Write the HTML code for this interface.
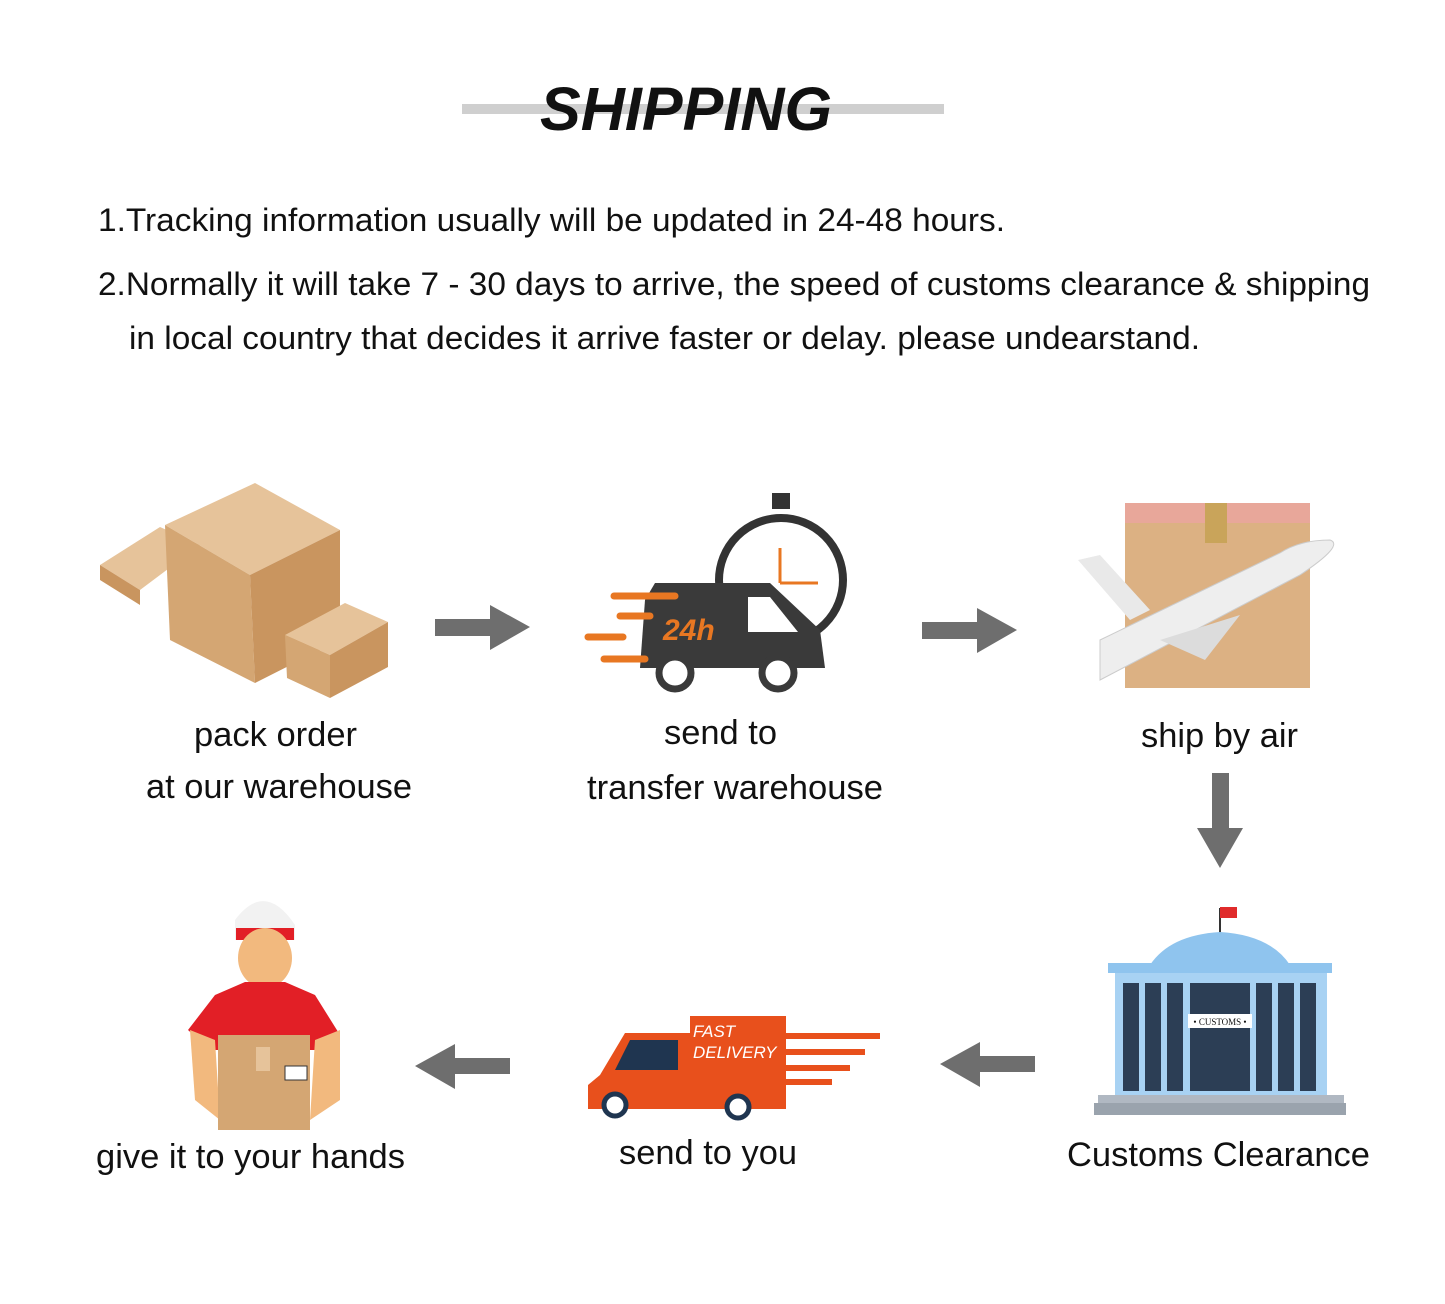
<!DOCTYPE html>
<html><head><meta charset="utf-8"><style>
html,body{margin:0;padding:0;background:#fff;}
svg{display:block;}
text{font-family:"Liberation Sans",Arial,sans-serif;fill:#111;}
</style></head><body>
<svg width="1445" height="1304" viewBox="0 0 1445 1304" xmlns="http://www.w3.org/2000/svg">
<rect x="462" y="104" width="482" height="10" fill="#cfcfcf"/>
<text x="686" y="130" text-anchor="middle" font-size="61" font-weight="bold" font-style="italic" fill="#000" textLength="292" lengthAdjust="spacingAndGlyphs">SHIPPING</text>
<text x="98" y="231" font-size="32" textLength="907" lengthAdjust="spacingAndGlyphs">1.Tracking information usually will be updated in 24-48 hours.</text>
<text x="98" y="295" font-size="32" textLength="1272" lengthAdjust="spacingAndGlyphs">2.Normally it will take 7 - 30 days to arrive, the speed of customs clearance &amp; shipping</text>
<text x="129" y="349" font-size="32" textLength="1071" lengthAdjust="spacingAndGlyphs">in local country that decides it arrive faster or delay. please undearstand.</text>

<!-- boxes -->
<polygon points="100,565 160,527 200,545 140,590" fill="#e6c39a"/>
<polygon points="100,565 140,590 140,605 100,580" fill="#c9955f"/>
<polygon points="165,525 255,483 340,530 250,575" fill="#e6c39a"/>
<polygon points="165,525 250,575 255,683 170,640" fill="#d4a673"/>
<polygon points="250,575 340,530 340,640 255,683" fill="#c9955f"/>
<polygon points="285,635 345,603 388,622 330,655" fill="#e6c39a"/>
<polygon points="285,635 330,655 330,698 287,678" fill="#d4a673"/>
<polygon points="330,655 388,622 388,667 330,698" fill="#c9955f"/>

<!-- arrows -->
<g fill="#6e6e6e">
<polygon points="435,619 490,619 490,605 530,627 490,650 490,636 435,636"/>
<polygon points="922,622 977,622 977,608 1017,630 977,653 977,639 922,639"/>
<polygon points="1212,773 1229,773 1229,828 1243,828 1220,868 1197,828 1212,828"/>
<polygon points="510,1058 455,1058 455,1044 415,1066 455,1089 455,1074 510,1074"/>
<polygon points="1035,1056 980,1056 980,1042 940,1064 980,1087 980,1072 1035,1072"/>
</g>

<!-- stopwatch + van -->
<rect x="772" y="493" width="18" height="16" fill="#333"/>
<circle cx="781" cy="580" r="62" fill="none" stroke="#333" stroke-width="8"/>
<line x1="780" y1="548" x2="780" y2="583" stroke="#e87722" stroke-width="3"/>
<line x1="780" y1="583" x2="818" y2="583" stroke="#e87722" stroke-width="3"/>
<path d="M655,583 L770,583 L820,630 L825,668 L640,668 L645,600 Z" fill="#3a3a3a"/>
<polygon points="748,597 770,597 798,632 748,632" fill="#fff"/>
<text x="663" y="640" font-size="30" font-weight="bold" font-style="italic" style="fill:#e87722">24h</text>
<g stroke="#e87722" stroke-width="7" stroke-linecap="round">
<line x1="614" y1="596" x2="675" y2="596"/><line x1="620" y1="616" x2="650" y2="616"/>
<line x1="588" y1="637" x2="623" y2="637"/><line x1="604" y1="659" x2="645" y2="659"/></g>
<circle cx="675" cy="673" r="16" fill="#fff" stroke="#3a3a3a" stroke-width="7"/>
<circle cx="778" cy="673" r="16" fill="#fff" stroke="#3a3a3a" stroke-width="7"/>

<!-- plane box -->
<rect x="1125" y="503" width="185" height="185" fill="#dcb183"/>
<rect x="1125" y="503" width="185" height="20" fill="#e8a79a"/>
<rect x="1205" y="503" width="22" height="40" fill="#c9a45a"/>
<path d="M1100,680 L1300,575 Q1345,545 1330,540 Q1300,540 1280,553 L1100,640 Z" fill="#eeeeee" stroke="#ccc"/>
<polygon points="1078,560 1100,555 1150,610 1130,620" fill="#e9e9e9"/>
<polygon points="1160,640 1240,615 1205,660" fill="#dcdcdc"/>

<!-- customs building -->
<line x1="1220" y1="908" x2="1220" y2="935" stroke="#333" stroke-width="2"/>
<rect x="1220" y="907" width="17" height="11" fill="#e02b2b"/>
<path d="M1150,965 Q1170,935 1220,932 Q1270,935 1290,965 Z" fill="#8fc4ee"/>
<rect x="1108" y="963" width="224" height="10" fill="#8fc4ee"/>
<rect x="1115" y="973" width="212" height="122" fill="#a8d2f3"/>
<g fill="#2c3e55">
<rect x="1123" y="983" width="16" height="108"/><rect x="1145" y="983" width="16" height="108"/>
<rect x="1167" y="983" width="16" height="108"/><rect x="1256" y="983" width="16" height="108"/>
<rect x="1278" y="983" width="16" height="108"/><rect x="1300" y="983" width="16" height="108"/>
<rect x="1190" y="983" width="60" height="108"/></g>
<rect x="1188" y="1014" width="64" height="14" fill="#fff"/>
<text x="1220" y="1025" font-size="9" text-anchor="middle" style="font-family:'Liberation Serif',serif">• CUSTOMS •</text>
<rect x="1098" y="1095" width="246" height="8" fill="#b0b8c2"/>
<rect x="1094" y="1103" width="252" height="12" fill="#9aa3ad"/>

<!-- fast delivery truck -->
<rect x="690" y="1016" width="96" height="93" fill="#e8501c"/>
<text x="693" y="1037" font-size="17" font-style="italic" style="fill:#fff">FAST</text>
<text x="693" y="1058" font-size="17" font-style="italic" style="fill:#fff">DELIVERY</text>
<g stroke="#e8501c" stroke-width="6"><line x1="786" y1="1036" x2="880" y2="1036"/><line x1="786" y1="1052" x2="865" y2="1052"/><line x1="786" y1="1068" x2="850" y2="1068"/><line x1="786" y1="1082" x2="832" y2="1082"/></g>
<path d="M600,1075 L625,1033 L690,1033 L690,1109 L588,1109 L588,1085 Z" fill="#e8501c"/>
<polygon points="630,1040 678,1040 678,1070 615,1070" fill="#1f3550"/>
<circle cx="615" cy="1105" r="11" fill="#fff" stroke="#1f3550" stroke-width="5"/>
<circle cx="738" cy="1107" r="11" fill="#fff" stroke="#1f3550" stroke-width="5"/>

<!-- person -->
<path d="M235,920 Q265,880 295,925 L295,940 L235,940 Z" fill="#f2f2f2"/>
<rect x="236" y="928" width="58" height="12" fill="#e21f26"/>
<ellipse cx="265" cy="958" rx="27" ry="30" fill="#f2b97e"/>
<path d="M215,995 L245,982 L285,982 L315,995 L340,1035 L320,1050 L210,1050 L188,1030 Z" fill="#e21f26"/>
<path d="M190,1030 L215,1040 L220,1120 L195,1100 Z" fill="#f2b97e"/>
<path d="M340,1030 L315,1040 L310,1120 L340,1100 Z" fill="#f2b97e"/>
<rect x="218" y="1035" width="92" height="95" fill="#d4a673"/>
<rect x="256" y="1047" width="14" height="24" fill="#e6c39a"/>
<rect x="285" y="1066" width="22" height="14" fill="#fff" stroke="#333"/>

<!-- labels -->
<g font-size="34" lengthAdjust="spacingAndGlyphs">
<text x="194" y="746" textLength="163" lengthAdjust="spacingAndGlyphs">pack order</text>
<text x="146" y="798" textLength="266" lengthAdjust="spacingAndGlyphs">at our warehouse</text>
<text x="664" y="744" textLength="113" lengthAdjust="spacingAndGlyphs">send to</text>
<text x="587" y="799" textLength="296" lengthAdjust="spacingAndGlyphs">transfer warehouse</text>
<text x="1141" y="747" textLength="157" lengthAdjust="spacingAndGlyphs">ship by air</text>
<text x="1067" y="1166" textLength="303" lengthAdjust="spacingAndGlyphs">Customs Clearance</text>
<text x="619" y="1164" textLength="178" lengthAdjust="spacingAndGlyphs">send to you</text>
<text x="96" y="1168" textLength="309" lengthAdjust="spacingAndGlyphs">give it to your hands</text>
</g>
</svg>
</body></html>
